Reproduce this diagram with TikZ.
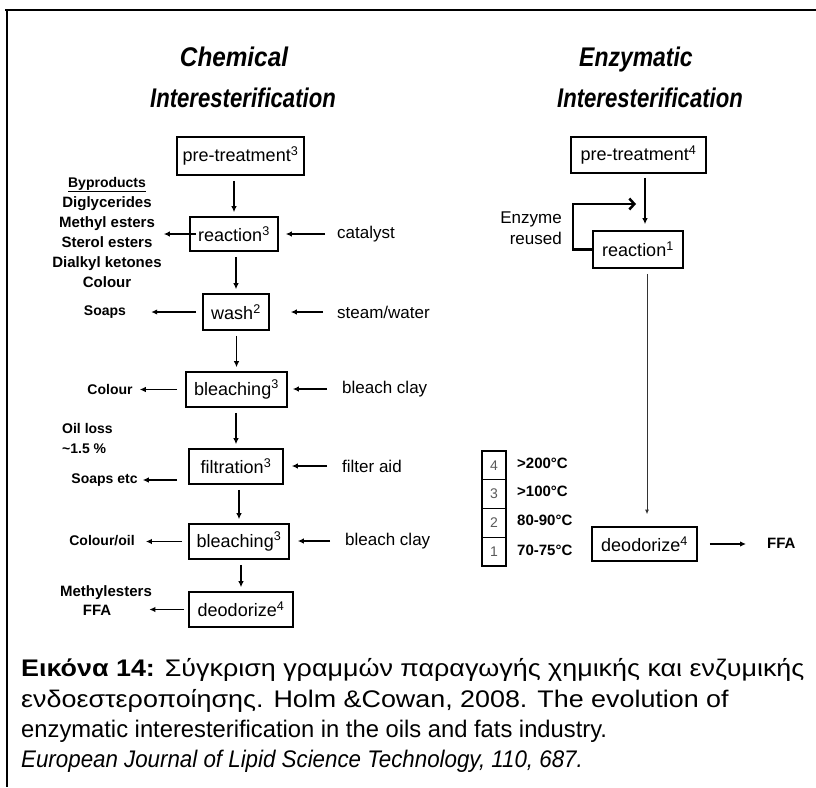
\documentclass[tikz,border=0pt]{standalone}
\usepackage{fontspec}
\setmainfont{Liberation Sans}
\usetikzlibrary{arrows.meta}
\newcommand{\fsz}[2]{\fontsize{#1}{#2}\selectfont}
\newcommand{\cnd}[2]{\scalebox{#1}[1]{#2}}
\begin{document}
\begin{tikzpicture}[x=1pt,y=-1pt,
  box/.style={draw, line width=1.6pt, inner sep=0pt, font=\fsz{18}{21}},
  harr/.style={line width=1.3pt, -{Latex[length=6pt,width=5.5pt]}},
  varr/.style={line width=1.3pt, -{Latex[length=6pt,width=5.5pt]}},
  side/.style={inner sep=0pt, font=\bfseries\fsz{14}{20}},
  inp/.style={inner sep=0pt, anchor=west, font=\fsz{17}{20}},
  ttl/.style={inner sep=0pt, anchor=base, font=\bfseries\itshape\fsz{27}{32}},
  cell/.style={draw, line width=0.8pt, minimum width=24pt, minimum height=28.75pt, inner sep=0pt, font=\fsz{14}{16}, text=black!65},
  lab/.style={inner sep=0pt, anchor=west, font=\bfseries\fsz{15}{18}},
  captxt/.style={inner sep=0pt, anchor=base west, font=\fsz{24}{28}}
]
\useasboundingbox (0,0) rectangle (816,787);
% frame
\draw[line width=2.4pt] (5,10) -- (816,10);
\draw[line width=2.4pt] (7,9) -- (7,787);

% titles
\node[ttl] (t1a) at (234,66) {\cnd{0.9}{Chemical}};
\node[ttl] (t1b) at (243,107) {\cnd{0.82}{Interesterification}};
\node[ttl] (t2a) at (636,66) {\cnd{0.85}{Enzymatic}};
\node[ttl] (t2b) at (650,107) {\cnd{0.82}{Interesterification}};

% chemical column boxes
\node[box, minimum width=127pt, minimum height=38pt] (c1) at (240.5,156) {pre-treatment\textsuperscript{3}};
\node[box, minimum width=88pt, minimum height=34pt] (c2) at (234,234) {reaction\textsuperscript{3}};
\node[box, minimum width=66pt, minimum height=36pt] (c3) at (236,312) {wash\textsuperscript{2}};
\node[box, minimum width=101pt, minimum height=35pt] (c4) at (236.5,389.5) {bleaching\textsuperscript{3}};
\node[box, minimum width=94pt, minimum height=35pt] (c5) at (236,466.5) {filtration\textsuperscript{3}};
\node[box, minimum width=100pt, minimum height=35pt] (c6) at (239,541.5) {bleaching\textsuperscript{3}};
\node[box, minimum width=104pt, minimum height=35pt] (c7) at (241,609.5) {deodorize\textsuperscript{4}};

\draw[varr, shorten <=5pt, shorten >=4pt] (c1.south -| c2.north) -- (c2.north);
\draw[varr, shorten <=5pt, shorten >=4pt] (c2.south -| c3.north) -- (c3.north);
\draw[varr, shorten <=5pt, shorten >=4pt] (c3.south -| c4.north) -- (c4.north);
\draw[varr, shorten <=5pt, shorten >=4pt] (c4.south -| c5.north) -- (c5.north);
\draw[varr, shorten <=5pt, shorten >=4pt] (c5.south -| c6.north) -- (c6.north);
\draw[varr, shorten <=5pt, shorten >=4pt] (c6.south -| c7.north) -- (c7.north);

% inputs
\node[inp] (cat) at (337,234) {catalyst};
\node[inp] (stm) at (337,312) {steam/water};
\node[inp] (bc1) at (342,389) {bleach clay};
\node[inp] (fa) at (342,466) {filter aid};
\node[inp] (bc2) at (345,541) {bleach clay};
\draw[harr, shorten <=12pt, shorten >=7pt] (cat.west) -- (cat.west -| c2.east);
\draw[harr, shorten <=14pt, shorten >=21pt] (stm.west) -- (stm.west -| c3.east);
\draw[harr, shorten <=15pt, shorten >=5pt] (bc1.west) -- (bc1.west -| c4.east);
\draw[harr, shorten <=15pt, shorten >=8pt] (fa.west) -- (fa.west -| c5.east);
\draw[harr, shorten <=15pt, shorten >=8pt] (bc2.west) -- (bc2.west -| c6.east);

% outputs
\node[inner sep=0pt, align=center, font=\bfseries\fsz{15}{20}] (byp) at (107,232)
  {{\fsz{14}{20}\underline{Byproducts}}\\Diglycerides\\Methyl esters\\Sterol esters\\Dialkyl ketones\\Colour};
\draw[harr, shorten >=2pt] ([xshift=7pt]c2.west) -- (c2.west -| byp.east);
\node[side] (soaps) at (105,312) {Soaps};
\draw[harr, shorten <=6pt, shorten >=25pt] (c3.west) -- (c3.west -| soaps.east);
\node[side] (col1) at (110,389.5) {Colour};
\draw[harr, shorten <=8pt, shorten >=7pt] (c4.west) -- (c4.west -| col1.east);
\node[side, align=left, anchor=west] (oil) at (62,438) {Oil loss\\\textasciitilde1.5 \%};
\node[side] (soe) at (104.5,480) {Soaps etc};
\draw[harr, shorten <=11pt, shorten >=5pt] (soe.east -| c5.west) -- (soe.east);
\node[side] (coil) at (102,540.5) {Colour/oil};
\draw[harr, shorten <=6pt, shorten >=11pt] (c6.west) -- (c6.west -| coil.east);
\node[side, font=\bfseries\fsz{15}{18}] (mest) at (106,593) {Methylesters};
\node[side, font=\bfseries\fsz{15}{18}] (ffa1) at (97,610) {FFA};
\draw[harr, shorten <=4pt, shorten >=38pt] (c7.west) -- (c7.west -| ffa1.east);

% enzymatic column
\node[box, minimum width=135pt, minimum height=36pt] (e1) at (638.5,155) {pre-treatment\textsuperscript{4}};
\node[box, minimum width=90pt, minimum height=37pt] (e2) at (638,249.5) {reaction\textsuperscript{1}};
\node[box, minimum width=105pt, minimum height=34pt] (e3) at (644.5,544) {deodorize\textsuperscript{4}};
\coordinate (ex) at (645,0);
\coordinate (ex2) at (647,0);
\coordinate (lp) at (636,204);
\draw[varr, shorten <=4pt, shorten >=6pt] (e1.south -| ex) -- (e2.north -| ex);
\draw[line width=2.5pt, -{Straight Barb[length=5pt,width=11pt]}] (e2.west) -- ++(-19pt,0) |- (lp);
\node[inner sep=0pt, anchor=east, align=right, font=\fsz{17}{21}] (enz) at (562,228) {Enzyme\\reused};
\draw[line width=0.9pt, black!80, -{Latex[length=4.5pt,width=4pt]}, shorten <=5pt, shorten >=12pt] (e2.south -| ex2) -- (e3.north -| ex2);
\node[side, font=\bfseries\fsz{15}{18}, anchor=west] (ffa2) at (767,543) {FFA};
\draw[harr, shorten <=12pt, shorten >=21pt] (e3.east) -- (e3.east -| ffa2.west);

% temperature legend
\node[cell] (l4) at (494,465.4) {4};
\node[cell] (l3) at (494,494.1) {3};
\node[cell] (l2) at (494,522.9) {2};
\node[cell] (l1) at (494,551.6) {1};
\draw[line width=2pt] (l4.north west) rectangle (l1.south east);
\node[lab] (tt4) at (517,463) {>200°C};
\node[lab] (tt3) at (517,491) {>100°C};
\node[lab] (tt2) at (517,520) {80-90°C};
\node[lab] (tt1) at (517,550) {70-75°C};

% caption
\node[captxt] (cap1) at (21,676) {\cnd{1.12}{\textbf{Εικόνα 14:} Σύγκριση γραμμών παραγωγής χημικής και ενζυμικής}};
\node[captxt] (cap2) at (21,707) {\cnd{1.12}{ενδοεστεροποίησης. Holm \&Cowan, 2008. The evolution of}};
\node[captxt] (cap3) at (21,737) {\cnd{0.99}{enzymatic interesterification in the oils and fats industry.}};
\node[captxt] (cap4) at (21,767) {\cnd{0.93}{\textit{European Journal of Lipid Science Technology, 110, 687.}}};
\end{tikzpicture}
\end{document}
